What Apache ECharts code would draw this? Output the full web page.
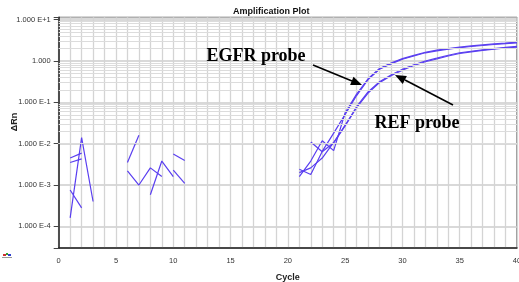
<!DOCTYPE html>
<html>
<head>
<meta charset="utf-8">
<script src="https://cdn.jsdelivr.net/npm/echarts@6/dist/echarts.min.js"></script>
<style>
  html, body { margin: 0; padding: 0; background: #fff; }
  #plot { width: 519px; height: 282px; }
</style>
</head>
<body>
<div id="plot"></div>
<script>
// cycles of the amplification traces
const ampCycles = [21, 22, 23, 24, 25, 26, 27, 28, 29, 30, 31, 32, 33, 34, 35, 36, 37, 38, 39, 40]

// delta Rn per cycle, EGFR probe (two wells)
const egfrA = [2.4e-3, 1.8e-3, 6.5e-3, 0.018, 0.051, 0.146, 0.355, 0.63, 0.85, 1.10, 1.32, 1.58, 1.76, 1.93, 2.09, 2.24, 2.37, 2.51, 2.63, 2.75]
const egfrB = [1.6e-3, 3.8e-3, 0.0118, 0.0068, 0.056, 0.158, 0.372, 0.66, 0.89, 1.14, 1.37, 1.63, 1.83, 2.0, 2.17, 2.32, 2.46, 2.6, 2.72, 2.85]
// delta Rn per cycle, REF probe (two wells)
const refC = [2.0e-3, 2.6e-3, 4.5e-3, 0.0107, 0.028, 0.0785, 0.178, 0.316, 0.457, 0.63, 0.81, 1.0, 1.17, 1.38, 1.58, 1.72, 1.86, 2.0, 2.14, 2.25]
const refD = [null, 0.011, 0.0064, 0.0105, 0.027, 0.074, 0.168, 0.30, 0.44, 0.60, 0.78, 0.96, 1.12, 1.32, 1.52, 1.66, 1.80, 1.93, 2.06, 2.17]

// early-cycle background noise (only the positive parts show on a log axis)
const noiseTraces = [
  [[1, 1.6e-4], [2, 1.4e-2], [3, 4e-4]],
  [[1, 7.6e-4], [2, 2.8e-4]],
  [[1, 4.5e-3], [2, 5.9e-3]],
  [[1, 3.5e-3], [2, 4.3e-3]],
  [[6, 3.5e-3], [7, 1.6e-2]],
  [[6, 2.2e-3], [7, 1.0e-3], [8, 2.6e-3], [9, 1.6e-3]],
  [[8, 5.8e-4], [9, 3.8e-3], [10, 1.6e-3]],
  [[10, 5.6e-3], [11, 3.9e-3]],
  [[10, 2.3e-3], [11, 1.1e-3]],
]

const xTicks = [0, 5, 10, 15, 20, 25, 30, 35, 40]
const yMin = 3e-5
const yMax = 11.4

const lineColor = '#5a3ff0'
const gridColor = '#d4d4d4'

// minor horizontal grid lines at 2..9 of every decade
var minorLines = []
for (let d = -5; d <= 1; d++) {
  for (let k = 2; k <= 9; k++) {
    var v = k * Math.pow(10, d)
    if (v > yMin && v < yMax) minorLines.push({ yAxis: v })
  }
}

function pairs(xs, ys) {
  return xs.map((x, i) => [x, ys[i]])
}

function lineSeries(data) {
  return {
    type: 'line',
    data: data,
    showSymbol: false,
    connectNulls: false,
    lineStyle: { color: lineColor, width: 1.2 },
    z: 3,
  }
}

var series = [
  {
    type: 'line',
    data: [],
    z: 1,
    silent: true,
    markLine: {
      silent: true,
      symbol: ['none', 'none'],
      label: { show: false },
      lineStyle: { color: '#dcdcdc', width: 1, type: 'solid' },
      emphasis: { disabled: true },
      data: minorLines,
    },
  },
]
noiseTraces.forEach((t) => series.push(lineSeries(t)))
series.push(lineSeries(pairs(ampCycles, egfrA)))
series.push(lineSeries(pairs(ampCycles, egfrB)))
series.push(lineSeries(pairs(ampCycles, refC)))
series.push(lineSeries(pairs(ampCycles, refD)))

function yLabel(v) {
  var e = Math.round(Math.log10(v))
  if (Math.abs(Math.log10(v) - e) > 1e-6) return ''
  if (e === 0) return '1.000'
  return '1.000 E' + (e > 0 ? '+' : '') + e
}

var chart = echarts.init(document.getElementById('plot'))
var option = {
  animation: false,
  backgroundColor: '#fff',
  grid: {
    left: 58.7,
    right: 2,
    top: 17.3,
    bottom: 34,
    containLabel: false,
    outerBoundsMode: 'none',
    show: true,
    borderColor: '#333',
    borderWidth: 1,
  },
  xAxis: {
    type: 'value',
    min: 0,
    max: 40,
    interval: 5,
    axisLine: { lineStyle: { color: '#222', width: 1.5 } },
    axisTick: { show: false },
    axisLabel: {
      fontSize: 7.5,
      color: '#333',
      margin: 9,
      fontFamily: 'Liberation Sans',
      formatter: (v) => (xTicks.indexOf(v) >= 0 ? String(v) : ''),
    },
    splitLine: { lineStyle: { color: gridColor, width: 1.3 } },
    minorTick: { show: false, splitNumber: 5 },
    minorSplitLine: { show: true, lineStyle: { color: gridColor, width: 1.3 } },
    name: 'Cycle',
    nameLocation: 'middle',
    nameGap: 25,
    nameTextStyle: { fontSize: 9, fontWeight: 'bold', color: '#222', fontFamily: 'Liberation Sans' },
  },
  yAxis: {
    type: 'log',
    min: yMin,
    max: yMax,
    axisLine: { show: true, lineStyle: { color: '#222', width: 1.5 } },
    axisTick: { show: true, length: 5, lineStyle: { color: '#444' } },
    axisLabel: {
      fontSize: 7.5,
      color: '#333',
      margin: 8,
      fontFamily: 'Liberation Sans',
      formatter: yLabel,
    },
    splitLine: { lineStyle: { color: '#cdcdcd', width: 1.5 } },
  },
  graphic: [
    {
      type: 'text',
      left: 233,
      top: 7,
      style: { text: 'Amplification Plot', fontSize: 9, fontWeight: 'bold', fill: '#111', fontFamily: 'Liberation Sans' },
    },
    {
      type: 'text',
      x: 15,
      y: 122,
      rotation: Math.PI / 2,
      style: { text: 'ΔRn', fontSize: 9, fontWeight: 'bold', fill: '#222', align: 'center', verticalAlign: 'middle', fontFamily: 'Liberation Sans' },
    },
    {
      type: 'text',
      x: 256,
      y: 56,
      z: 10,
      style: { text: 'EGFR probe', fontSize: 18, fontWeight: 'bold', fill: '#000', align: 'center', verticalAlign: 'middle', fontFamily: 'Liberation Serif' },
    },
    {
      type: 'text',
      x: 417,
      y: 123,
      z: 10,
      style: { text: 'REF probe', fontSize: 18, fontWeight: 'bold', fill: '#000', align: 'center', verticalAlign: 'middle', fontFamily: 'Liberation Serif' },
    },
    // EGFR arrow
    {
      type: 'line',
      z: 10,
      shape: { x1: 313, y1: 65, x2: 352, y2: 81 },
      style: { stroke: '#000', lineWidth: 1.6 },
    },
    {
      type: 'polygon',
      z: 10,
      shape: { points: [[362, 85], [350.1, 85.0], [353.5, 76.7]] },
      style: { fill: '#000' },
    },
    // REF arrow
    {
      type: 'line',
      z: 10,
      shape: { x1: 453, y1: 105, x2: 405, y2: 80 },
      style: { stroke: '#000', lineWidth: 1.6 },
    },
    {
      type: 'polygon',
      z: 10,
      shape: { points: [[395, 75], [406.9, 76.05], [402.7, 84.05]] },
      style: { fill: '#000' },
    },
    // little legend icon bottom-left
    { type: 'rect', shape: { x: 3, y: 254, width: 3, height: 2 }, style: { fill: '#d03030' } },
    { type: 'rect', shape: { x: 6, y: 253, width: 2, height: 2 }, style: { fill: '#30a030' } },
    { type: 'rect', shape: { x: 8, y: 254, width: 3, height: 2 }, style: { fill: '#3040d0' } },
    { type: 'rect', shape: { x: 2, y: 257, width: 10, height: 1 }, style: { fill: '#999' } },
  ],
  series: series,
}
chart.setOption(option)
</script>
</body>
</html>
